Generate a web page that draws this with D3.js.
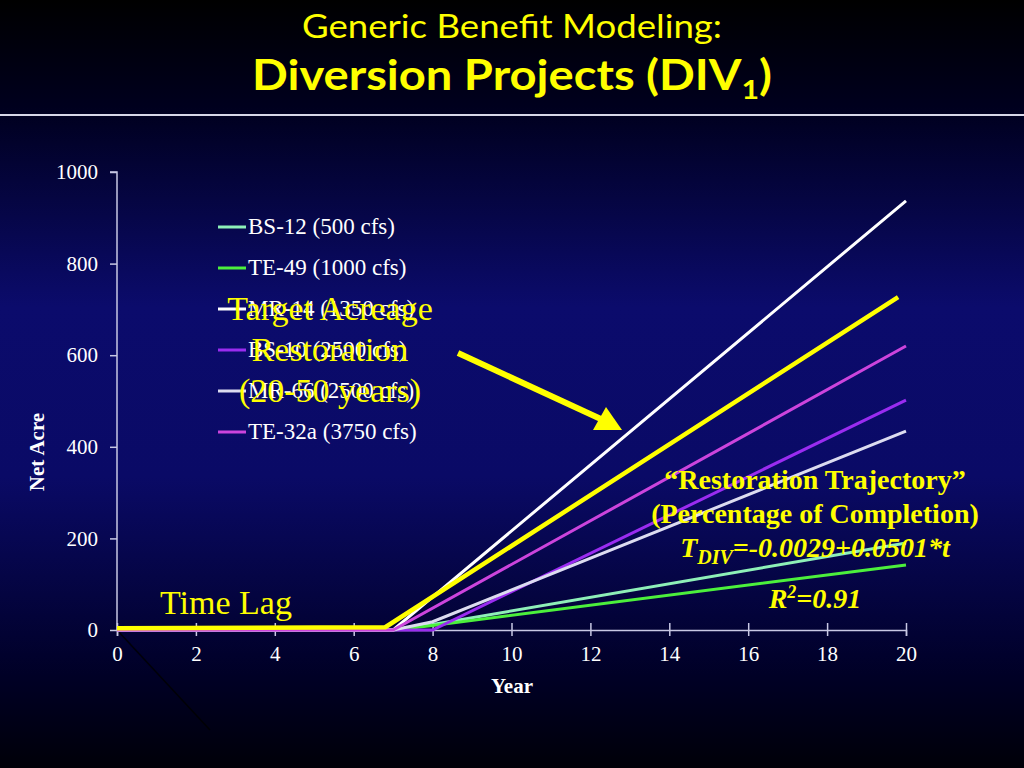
<!DOCTYPE html>
<html>
<head>
<meta charset="utf-8">
<script src="https://cdn.jsdelivr.net/npm/d3@7"></script>
<style>
  html, body { margin: 0; padding: 0; background: #000; }
  svg { display: block; }
</style>
</head>
<body>
<div id="chart"></div>
<script>
// --- data ---
const xTicks = [0, 2, 4, 6, 8, 10, 12, 14, 16, 18, 20];
const yTicks = [0, 200, 400, 600, 800, 1000];

const bs12  = [[0, 0], [7, 0], [8, 12], [20, 190]];
const te49  = [[0, 0], [7, 0], [8, 10], [20, 142]];
const mr14  = [[0, 0], [7, 0], [20, 937]];
const bs10  = [[0, 0], [8, 0], [20, 502]];
const mr66  = [[0, 0], [7, 0], [8, 18], [20, 434]];
const te32a = [[0, 0], [7, 0], [20, 620]];
const target = [[0, 4], [6.8, 6], [19.8, 727]];

const series = [
  { name: "BS-12 (500 cfs)",   values: bs12,  color: "#8ef0b8" },
  { name: "TE-49 (1000 cfs)",  values: te49,  color: "#4cf03c" },
  { name: "MR-14 (1350 cfs)",  values: mr14,  color: "#ffffff" },
  { name: "BS-10 (2500 cfs)",  values: bs10,  color: "#9a2cf0" },
  { name: "MR-66 (2500 cfs)",  values: mr66,  color: "#dcdcf0" },
  { name: "TE-32a (3750 cfs)", values: te32a, color: "#cc44dd" }
];

// --- sizing ---
const W = 1024, H = 768;
const plot = { left: 117, right: 906, top: 172, bottom: 630 };
const serif = "'Liberation Serif', 'Times New Roman', serif";

const svg = d3.select("#chart").append("svg")
  .attr("width", W).attr("height", H);

// background gradient
const defs = svg.append("defs");
const grad = defs.append("linearGradient")
  .attr("id", "bg").attr("x1", 0).attr("y1", 0).attr("x2", 0).attr("y2", 1);
[["0%", "#000000"], ["14%", "#00001e"], ["40%", "#0b0b6c"], ["62%", "#0a0a66"], ["88%", "#000026"], ["100%", "#000008"]]
  .forEach(([o, c]) => grad.append("stop").attr("offset", o).attr("stop-color", c));
svg.append("rect").attr("width", W).attr("height", H).attr("fill", "url(#bg)");

// title
const title = svg.append("g").attr("fill", "#ffff00").attr("text-anchor", "middle")
  .style("font-family", "Lato, 'Open Sans', sans-serif");
title.append("text").attr("x", 512).attr("y", 38)
  .attr("textLength", 420).attr("lengthAdjust", "spacingAndGlyphs")
  .style("font-size", "32px").text("Generic Benefit Modeling:");
const t2 = title.append("text").attr("x", 512).attr("y", 90)
  .attr("textLength", 520).attr("lengthAdjust", "spacingAndGlyphs")
  .style("font-size", "42px").style("font-weight", "bold");
t2.append("tspan").text("Diversion Projects (DIV");
t2.append("tspan").attr("dy", 9).style("font-size", "27px").text("1");
t2.append("tspan").attr("dy", -9).text(")");

svg.append("line").attr("x1", 0).attr("x2", W).attr("y1", 115).attr("y2", 115)
  .attr("stroke", "#d8d8e8").attr("stroke-width", 2);

// --- scales ---
const x = d3.scaleLinear().domain([0, 20]).range([plot.left, plot.right]);
const y = d3.scaleLinear().domain([0, 1000]).range([plot.bottom, plot.top]);

// faint diagonal artifact from origin
svg.append("line")
  .attr("x1", x(0)).attr("y1", y(0)).attr("x2", x(0) + 93).attr("y2", y(0) + 100)
  .attr("stroke", "#000000").attr("stroke-width", 1.5).attr("opacity", 0.8);

// --- axes ---
const axisColor = "#c8c8e4";
const gx = svg.append("g").attr("transform", `translate(0,${plot.bottom})`)
  .call(d3.axisBottom(x).tickValues(xTicks).tickFormat(d3.format("d")).tickSize(6).tickPadding(10));
gx.selectAll(".tick line").attr("y1", -7);
const gy = svg.append("g").attr("transform", `translate(${plot.left},0)`)
  .call(d3.axisLeft(y).tickValues(yTicks).tickFormat(d3.format("d")).tickSize(7).tickPadding(12));
[gx, gy].forEach(g => {
  g.select(".domain").attr("stroke", axisColor).attr("stroke-width", 1.5);
  g.selectAll(".tick line").attr("stroke", axisColor).attr("stroke-width", 1.5);
  g.selectAll(".tick text").attr("fill", "#ffffff")
    .style("font-family", serif)
    .style("font-size", "21px");
});
gy.select(".domain").attr("d", `M-7,${plot.top}H0V${plot.bottom}`);

// axis labels
svg.append("text").attr("x", 512).attr("y", 693).attr("text-anchor", "middle")
  .attr("fill", "#fff").style("font-family", serif)
  .style("font-size", "21px").style("font-weight", "bold").text("Year");
svg.append("text").attr("transform", "translate(44,452) rotate(-90)")
  .attr("text-anchor", "middle").attr("fill", "#fff")
  .style("font-family", serif)
  .style("font-size", "21px").style("font-weight", "bold").text("Net Acre");

// --- lines ---
const line = d3.line().x(d => x(d[0])).y(d => y(d[1]));

svg.selectAll(".series").data(series).enter().append("path")
  .attr("class", "series")
  .attr("fill", "none")
  .attr("stroke", d => d.color)
  .attr("stroke-width", 3)
  .attr("d", d => line(d.values));

svg.append("path").datum(target)
  .attr("fill", "none").attr("stroke", "#ffff00").attr("stroke-width", 4.5)
  .attr("stroke-linejoin", "round")
  .attr("d", line);

// --- legend ---
const leg = svg.append("g").attr("transform", "translate(218,227)");
const li = leg.selectAll("g").data(series).enter().append("g")
  .attr("transform", (d, i) => `translate(0,${i * 41})`);
li.append("line").attr("x1", 0).attr("x2", 28).attr("y1", 0).attr("y2", 0)
  .attr("stroke", d => d.color).attr("stroke-width", 3);
li.append("text").attr("x", 30).attr("y", 7).attr("fill", "#fff")
  .style("font-family", serif).style("font-size", "23px")
  .text(d => d.name);

// --- annotations ---
const ann = svg.append("g").attr("fill", "#ffff00").style("font-family", serif);

const ta = ann.append("text").attr("text-anchor", "middle").style("font-size", "34px");
[["Target Acreage", 320], ["Restoration", 361], ["(20-50 years)", 402]].forEach(([s, yy]) =>
  ta.append("tspan").attr("x", 330).attr("y", yy).text(s));

ann.append("text").attr("x", 160).attr("y", 614).style("font-size", "34px").text("Time Lag");

// arrow
svg.append("line").attr("x1", 458).attr("y1", 353).attr("x2", 603).attr("y2", 420)
  .attr("stroke", "#ffff00").attr("stroke-width", 6);
svg.append("path").attr("d", "M622,430 L593,430 L606,407 Z").attr("fill", "#ffff00");

const rt = ann.append("text").attr("text-anchor", "middle")
  .style("font-size", "28px").style("font-weight", "bold");
rt.append("tspan").attr("x", 815).attr("y", 489).text("\u201cRestoration Trajectory\u201d");
rt.append("tspan").attr("x", 815).attr("y", 523).text("(Percentage of Completion)");

const eq = ann.append("text").attr("x", 815).attr("y", 557).attr("text-anchor", "middle")
  .style("font-size", "28px").style("font-weight", "bold").style("font-style", "italic");
eq.append("tspan").text("T");
eq.append("tspan").attr("dy", 7).style("font-size", "20px").text("DIV");
eq.append("tspan").attr("dy", -7).text("=-0.0029+0.0501*t");

const r2 = ann.append("text").attr("x", 815).attr("y", 608).attr("text-anchor", "middle")
  .style("font-size", "28px").style("font-weight", "bold").style("font-style", "italic");
r2.append("tspan").text("R");
r2.append("tspan").attr("dy", -10).style("font-size", "18px").text("2");
r2.append("tspan").attr("dy", 10).text("=0.91");
</script>
</body>
</html>
